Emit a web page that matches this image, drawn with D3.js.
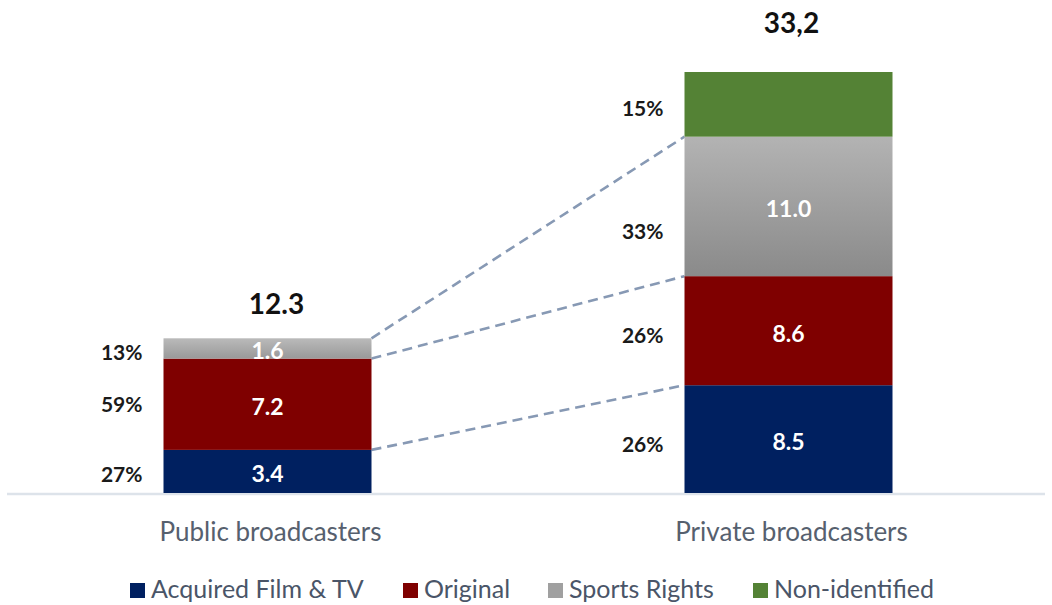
<!DOCTYPE html>
<html>
  <head>
    <meta charset="utf-8">
    <title>Broadcaster content spend</title>
    <script src="https://cdn.jsdelivr.net/npm/d3@7"></script>
    <style>
      body { margin: 0; background: #fff; }
      text { font-family: 'Lato', 'Noto Sans', sans-serif; }
      .pct { font-size: 21px; font-weight: bold; fill: #1a1a1a; text-anchor: end; }
      .val { font-size: 23px; font-weight: bold; fill: #fff; text-anchor: middle; }
      .total { font-size: 28px; font-weight: bold; fill: #111; text-anchor: middle; }
      .cat { font-size: 26px; fill: #56606e; text-anchor: middle; }
      .legend { font-size: 25px; fill: #4a5568; }
      .link { fill: none; stroke: #8799b4; stroke-width: 2.6px; stroke-dasharray: 10 6; }
    </style>
  </head>
  <body>
    <script>

      // data
      var categories = ['Public broadcasters', 'Private broadcasters'];
      var seriesNames = ['Acquired Film & TV', 'Original', 'Sports Rights', 'Non-identified'];
      var acquired = [3.4, 8.5];
      var original = [7.2, 8.6];
      var sports = [1.6, 11.0];
      var nonIdentified = [0, 5.1];
      var totalLabels = ['12.3', '33,2'];
      var pctLabels = [['27%', '59%', '13%', ''], ['26%', '26%', '33%', '15%']];

      // layout tweaks (label nudges, as placed in the original slide)
      var pctNudge = [[3, 0, 4, 0], [5, 5, 25, 4]];
      var totalNudge = [{ dx: 9, dy: -24 }, { dx: 3, dy: -39 }];

      var width = 1052, height = 605;
      var keys = ['acq', 'orig', 'sport', 'nonid'];
      var colors = { acq: '#002060', orig: '#7f0000', nonid: '#548235' };
      var legendColors = ['#002060', '#7f0000', '#a0a0a0', '#548235'];

      var rows = categories.map(function(c, i) {
        return { cat: c, acq: acquired[i], orig: original[i], sport: sports[i], nonid: nonIdentified[i] };
      });

      var svg = d3.select('body').append('svg')
        .attr('width', width)
        .attr('height', height);

      // gray gradients for the sports segments
      var defs = svg.append('defs');
      var gradStops = [['#bababa', '#999999'], ['#b3b3b3', '#8a8a8a']];
      gradStops.forEach(function(s, i) {
        var grad = defs.append('linearGradient')
          .attr('id', 'grayGrad' + i)
          .attr('x1', 0).attr('y1', 0).attr('x2', 0).attr('y2', 1);
        grad.append('stop').attr('offset', '0%').attr('stop-color', s[0]);
        grad.append('stop').attr('offset', '100%').attr('stop-color', s[1]);
      });

      var xScale = d3.scalePoint().domain(categories).range([267.5, 788.5]);
      var barW = 208;

      var yScale = d3.scaleLinear()
        .domain([0, 33.2])
        .range([493, 72]);

      var stacked = d3.stack().keys(keys)(rows);

      // baseline
      svg.append('line')
        .attr('x1', 7).attr('x2', 1045)
        .attr('y1', 494).attr('y2', 494)
        .style('stroke', '#dde3ea')
        .style('stroke-width', 2.5);

      // connector lines between the two bars
      var linkLevels = [0, 1, 2];
      svg.selectAll('.link')
        .data(linkLevels)
        .enter()
        .append('line')
        .attr('class', 'link')
        .attr('x1', xScale(categories[0]) + barW / 2)
        .attr('y1', function(k) { return yScale(stacked[k][0][1]); })
        .attr('x2', xScale(categories[1]) - barW / 2)
        .attr('y2', function(k) { return yScale(stacked[k][1][1]); });

      // bars
      var layers = svg.selectAll('.layer')
        .data(stacked)
        .enter()
        .append('g')
        .attr('class', 'layer');

      layers.selectAll('rect')
        .data(function(d) { return d.map(function(p) { p.key = d.key; return p; }); })
        .enter()
        .append('rect')
        .attr('x', function(d) { return xScale(d.data.cat) - barW / 2; })
        .attr('y', function(d) { return yScale(d[1]); })
        .attr('width', barW)
        .attr('height', function(d) { return yScale(d[0]) - yScale(d[1]); })
        .style('fill', function(d, i) {
          if (d.key == 'sport') return 'url(#grayGrad' + i + ')';
          return colors[d.key];
        });

      // value labels inside the bars
      stacked.forEach(function(layer, k) {
        layer.forEach(function(d, i) {
          var v = d[1] - d[0];
          if (v <= 0 || layer.key == 'nonid') return;
          svg.append('text')
            .attr('class', 'val')
            .attr('x', xScale(d.data.cat))
            .attr('y', (yScale(d[0]) + yScale(d[1])) / 2 + 11)
            .text(v.toFixed(1));
          });
      });

      // percentage labels left of the bars
      stacked.forEach(function(layer, k) {
        layer.forEach(function(d, i) {
          var label = pctLabels[i][k];
          if (!label) return;
          svg.append('text')
            .attr('class', 'pct')
            .attr('x', xScale(d.data.cat) - barW / 2 - 21)
            .attr('y', (yScale(d[0]) + yScale(d[1])) / 2 + 7.5 + pctNudge[i][k])
            .text(label);
        });
      });

      // totals
      svg.selectAll('.total')
        .data(categories)
        .enter()
        .append('text')
        .attr('class', 'total')
        .attr('x', function(d, i) { return xScale(d) + totalNudge[i].dx; })
        .attr('y', function(d, i) { return yScale(stacked[3][i][1]) + totalNudge[i].dy; })
        .text(function(d, i) { return totalLabels[i]; });

      // category labels
      svg.selectAll('.cat')
        .data(categories)
        .enter()
        .append('text')
        .attr('class', 'cat')
        .attr('x', function(d) { return xScale(d) + 3; })
        .attr('y', 541)
        .text(function(d) { return d; });

      // legend
      var legendX = [130, 403, 548, 753];
      var legend = svg.selectAll('.legend-item')
        .data(seriesNames)
        .enter()
        .append('g')
        .attr('transform', function(d, i) { return 'translate(' + legendX[i] + ',0)'; });
      legend.append('rect')
        .attr('x', 0).attr('y', 583)
        .attr('width', 15).attr('height', 15)
        .style('fill', function(d, i) { return legendColors[i]; });
      legend.append('text')
        .attr('class', 'legend')
        .attr('x', 21)
        .attr('y', 598)
        .text(function(d) { return d; });

    </script>
  </body>
</html>
